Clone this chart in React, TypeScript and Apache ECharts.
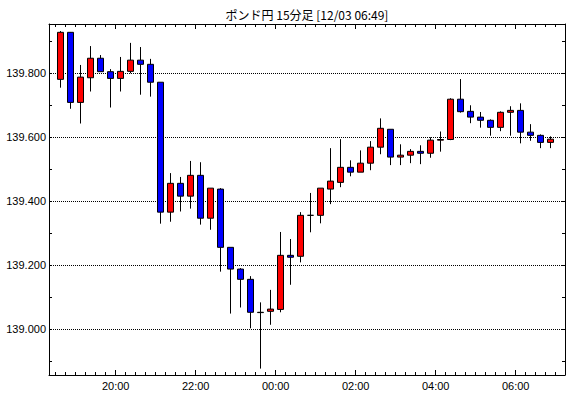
import React, { useEffect, useRef } from "react";
import * as echarts from "echarts";

const title = "ポンド円 15分足 [12/03 06:49]";

const times = [
  "18:30", "18:45", "19:00", "19:15", "19:30", "19:45", "20:00", "20:15", "20:30", "20:45",
  "21:00", "21:15", "21:30", "21:45", "22:00", "22:15", "22:30", "22:45", "23:00", "23:15",
  "23:30", "23:45", "00:00", "00:15", "00:30", "00:45", "01:00", "01:15", "01:30", "01:45",
  "02:00", "02:15", "02:30", "02:45", "03:00", "03:15", "03:30", "03:45", "04:00", "04:15",
  "04:30", "04:45", "05:00", "05:15", "05:30", "05:45", "06:00", "06:15", "06:30", "06:45",
];

const openValues = [
  139.781, 139.928, 139.709, 139.786, 139.847, 139.805, 139.784, 139.806, 139.841, 139.828,
  139.772, 139.366, 139.456, 139.416, 139.481, 139.347, 139.438, 139.256, 139.188, 139.156,
  139.053, 139.056, 139.062, 139.231, 139.228, 139.356, 139.356, 139.438, 139.459, 139.506,
  139.491, 139.519, 139.569, 139.625, 139.538, 139.544, 139.556, 139.55, 139.591, 139.593,
  139.719, 139.681, 139.663, 139.653, 139.631, 139.678, 139.684, 139.616, 139.606, 139.584,
];

const closeValues = [
  139.928, 139.709, 139.788, 139.847, 139.805, 139.784, 139.806, 139.841, 139.828, 139.772,
  139.366, 139.456, 139.416, 139.481, 139.347, 139.441, 139.256, 139.188, 139.156, 139.053,
  139.052, 139.063, 139.231, 139.225, 139.356, 139.356, 139.441, 139.463, 139.506, 139.491,
  139.519, 139.569, 139.628, 139.538, 139.544, 139.556, 139.55, 139.591, 139.593, 139.719,
  139.68, 139.663, 139.653, 139.631, 139.678, 139.684, 139.616, 139.606, 139.584, 139.594,
];

const lowValues = [
  139.755, 139.689, 139.643, 139.743, 139.805, 139.693, 139.743, 139.8, 139.733, 139.727,
  139.33, 139.336, 139.368, 139.377, 139.327, 139.311, 139.18, 139.049, 139.068, 139.003,
  138.877, 139.014, 139.053, 139.139, 139.209, 139.303, 139.331, 139.391, 139.444, 139.478,
  139.491, 139.497, 139.547, 139.513, 139.513, 139.519, 139.516, 139.536, 139.555, 139.591,
  139.677, 139.644, 139.63, 139.605, 139.619, 139.605, 139.581, 139.589, 139.566, 139.566,
];

const highValues = [
  139.932, 139.929, 139.826, 139.885, 139.857, 139.813, 139.851, 139.895, 139.882, 139.845,
  139.772, 139.488, 139.476, 139.526, 139.522, 139.441, 139.441, 139.256, 139.191, 139.166,
  139.084, 139.123, 139.304, 139.282, 139.366, 139.426, 139.441, 139.566, 139.594, 139.528,
  139.559, 139.588, 139.659, 139.625, 139.578, 139.563, 139.575, 139.6, 139.618, 139.722,
  139.782, 139.7, 139.679, 139.656, 139.681, 139.697, 139.706, 139.641, 139.609, 139.603,
];

const xTickLabels = ["20:00", "22:00", "00:00", "02:00", "04:00", "06:00"];
const yLabelValues = [139.0, 139.2, 139.4, 139.6, 139.8];
const yMinorTickValues = [138.9, 139.1, 139.3, 139.5, 139.7, 139.9];

// minutes relative to 00:00 of 12/03 (evening hours belong to the previous day)
const toMinutes = (t: string) => {
  const [h, m] = t.split(":").map(Number);
  const v = h * 60 + m;
  return h >= 12 ? v - 1440 : v;
};

const X_MIN = -340;
const X_MAX = 434;
const Y_MIN = 138.857;
const Y_MAX = 139.954;

export default function App() {
  const ref = useRef<HTMLDivElement>(null);

  useEffect(() => {
    if (!ref.current) return;
    const chart = echarts.init(ref.current, undefined, { renderer: "svg" });

    const candleData = times.map((t, i) => [
      toMinutes(t) + 7.5,
      openValues[i],
      closeValues[i],
      lowValues[i],
      highValues[i],
    ]);

    const majorX = xTickLabels.map(toMinutes);
    const minorX: number[] = [];
    for (let v = Math.ceil(X_MIN / 15) * 15; v <= X_MAX; v += 15) {
      if (!majorX.includes(v)) minorX.push(v);
    }
    const fmtX = (v: number) => {
      const m = ((v % 1440) + 1440) % 1440;
      const h = Math.floor(m / 60);
      const mm = m % 60;
      return String(h).padStart(2, "0") + ":" + String(mm).padStart(2, "0");
    };

    const labelFont = {
      fontFamily: "Liberation Sans",
      fontSize: 11,
      color: "#000",
    };

    const baseX = {
      type: "value" as const,
      min: X_MIN,
      max: X_MAX,
      gridIndex: 0,
      splitLine: { show: false },
    };
    const baseY = {
      type: "value" as const,
      min: Y_MIN,
      max: Y_MAX,
      gridIndex: 0,
      scale: true,
    };
    const line = { show: true, onZero: false, lineStyle: { color: "#000", width: 1 } };
    const noLine = { show: false, onZero: false };

    chart.setOption({
      animation: false,
      backgroundColor: "#fff",
      grid: { left: 49, right: 5, top: 24, bottom: 23, containLabel: false },
      graphic: [
        {
          type: "text",
          x: 307,
          y: 14,
          style: {
            text: title,
            textAlign: "center",
            textVerticalAlign: "middle",
            font: '12px "Noto Sans CJK JP"',
            fill: "#000",
          },
        },
      ],
      xAxis: [
        {
          ...baseX,
          position: "bottom",
          axisLine: line,
          axisTick: {
            show: true,
            inside: true,
            length: 5,
            lineStyle: { color: "#000" },
            customValues: majorX,
          },
          axisLabel: {
            show: true,
            margin: 5,
            ...labelFont,
            customValues: majorX,
            formatter: (v: number) => fmtX(v),
          },
        },
        {
          ...baseX,
          position: "bottom",
          axisLine: noLine,
          axisTick: {
            show: true,
            inside: true,
            length: 3,
            lineStyle: { color: "#000" },
            customValues: minorX,
          },
          axisLabel: { show: false },
        },
        {
          ...baseX,
          position: "top",
          axisLine: line,
          axisTick: {
            show: true,
            inside: true,
            length: 5,
            lineStyle: { color: "#000" },
            customValues: majorX,
          },
          axisLabel: { show: false },
        },
        {
          ...baseX,
          position: "top",
          axisLine: noLine,
          axisTick: {
            show: true,
            inside: true,
            length: 3,
            lineStyle: { color: "#000" },
            customValues: minorX,
          },
          axisLabel: { show: false },
        },
      ],
      yAxis: [
        {
          ...baseY,
          position: "left",
          axisLine: line,
          axisTick: {
            show: true,
            inside: true,
            length: 3,
            lineStyle: { color: "#000" },
            customValues: yLabelValues,
          },
          axisLabel: {
            show: true,
            margin: 3,
            ...labelFont,
            customValues: yLabelValues,
            formatter: (v: number) => v.toFixed(3),
          },
          splitLine: {
            show: true,
            lineStyle: { color: "#000", width: 1, type: "dotted" },
          },
        },
        {
          ...baseY,
          position: "left",
          axisLine: noLine,
          axisTick: {
            show: true,
            inside: true,
            length: 3,
            lineStyle: { color: "#000" },
            customValues: yMinorTickValues,
          },
          axisLabel: { show: false },
          splitLine: { show: false },
        },
        {
          ...baseY,
          position: "right",
          axisLine: line,
          axisTick: {
            show: true,
            inside: true,
            length: 3,
            lineStyle: { color: "#000" },
            customValues: [...yLabelValues, ...yMinorTickValues],
          },
          axisLabel: { show: false },
          splitLine: { show: false },
        },
      ],
      series: [
        {
          type: "candlestick",
          xAxisIndex: 0,
          yAxisIndex: 0,
          data: candleData,
          encode: { x: 0, y: [1, 2, 3, 4] },
          barWidth: 6,
          itemStyle: {
            color: "#ff0000",
            color0: "#0000ff",
            borderColor: "#000",
            borderColor0: "#000",
            borderColorDoji: "#000",
            borderWidth: 1,
          },
        },
      ],
    });

    return () => chart.dispose();
  }, []);

  return (
    <div
      ref={ref}
      style={{ position: "fixed", left: 0, top: 0, width: 570, height: 398, background: "#fff" }}
    />
  );
}
